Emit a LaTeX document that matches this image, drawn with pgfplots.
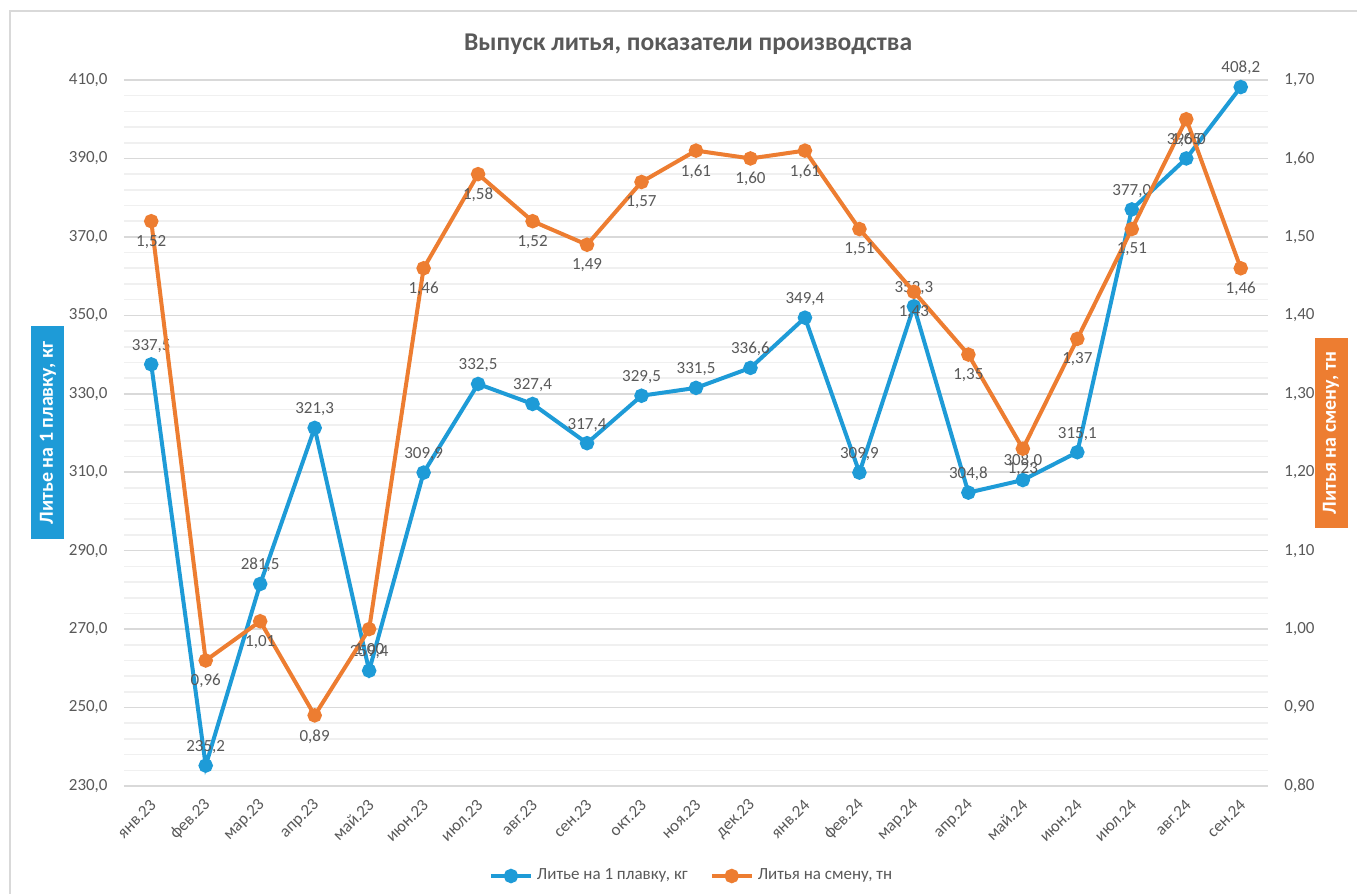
\documentclass[border=0pt]{standalone}
\usepackage{fontspec}
\setmainfont{Carlito}
\usepackage{pgfplots}
\pgfplotsset{compat=1.18}
\definecolor{cblue}{RGB}{30,155,215}
\definecolor{corange}{RGB}{237,125,49}
\definecolor{tgray}{RGB}{89,89,89}
\definecolor{gmaj}{RGB}{217,217,217}
\definecolor{gmin}{RGB}{240,240,240}
\pgfplotsset{
  common/.style={
    scale only axis, width=572pt, height=353pt,
    xmin=-0.5, xmax=20.5,
    axis line style={draw=none},
    major tick length=0pt, minor tick length=0pt,
    tick label style={font=\fontsize{8.5}{10}\selectfont, text=tgray},
    /pgf/number format/assume math mode=true,
    clip=false,
  }
}
\begin{document}
\begin{tikzpicture}
\useasboundingbox (-62pt,-54pt) rectangle (616.5pt,393pt);
\draw[gmaj, line width=0.8pt] (-57pt,387.5pt) rectangle (630pt,-60pt);

\begin{axis}[common,
  ymin=230, ymax=410, ytick={230,250,...,410}, minor y tick num=4,
  ymajorgrids, yminorgrids,
  major grid style={gmaj, line width=0.8pt},
  minor grid style={gmin, line width=0.8pt},
  yticklabel style={inner sep=0pt, /pgf/number format/.cd, use comma, fixed, fixed zerofill, precision=1},
  yticklabel shift=8pt,
  xtick={0,...,20},
  xticklabels={янв.23,фев.23,мар.23,апр.23,май.23,июн.23,июл.23,авг.23,сен.23,окт.23,ноя.23,дек.23,янв.24,фев.24,мар.24,апр.24,май.24,июн.24,июл.24,авг.24,сен.24},
  xticklabel style={rotate=45, anchor=east, inner sep=0pt, xshift=1.5pt},
  xticklabel shift=9pt,
]
\addplot[cblue, line width=2pt, mark=*, mark size=2.6pt, mark options={solid, fill=cblue},
  nodes near coords={\pgfmathprintnumber[assume math mode=true, use comma, fixed, fixed zerofill, precision=1]{\pgfplotspointmeta}},
  every node near coord/.append style={font=\fontsize{8.5}{10}\selectfont, text=tgray, anchor=south, inner sep=0pt, yshift=5pt}]
coordinates {
(0,337.5)(1,235.2)(2,281.5)(3,321.3)(4,259.4)(5,309.9)(6,332.5)(7,327.4)(8,317.4)(9,329.5)(10,331.5)
(11,336.6)(12,349.4)(13,309.9)(14,352.3)(15,304.8)(16,308.0)(17,315.1)(18,377.0)(19,390.0)(20,408.2)
};
\end{axis}

\begin{axis}[common,
  axis y line*=right, hide x axis,
  ymin=0.8, ymax=1.7, ytick={0.8,0.9,1.0,1.1,1.2,1.3,1.4,1.5,1.6,1.7},
  yticklabel style={inner sep=0pt, /pgf/number format/.cd, use comma, fixed, fixed zerofill, precision=2},
  yticklabel shift=8pt,
  legend style={at={(0.497,-0.1275)}, anchor=center, draw=none, fill=none,
    legend columns=2, font=\fontsize{8.5}{10}\selectfont, text=tgray,
    /tikz/every even column/.append style={column sep=9pt},
    inner sep=0pt},
  legend image code/.code={\draw[#1, mark repeat=2, mark phase=2] plot coordinates {(0pt,0pt)(10pt,0pt)(20pt,0pt)};},
]
\addlegendimage{cblue, line width=2pt, mark=*, mark size=2.6pt, mark options={solid, fill=cblue}}
\addlegendentry{Литье на 1 плавку, кг}
\addplot[corange, line width=2pt, mark=*, mark size=2.6pt, mark options={solid, fill=corange},
  nodes near coords={\pgfmathprintnumber[assume math mode=true, use comma, fixed, fixed zerofill, precision=2]{\pgfplotspointmeta}},
  every node near coord/.append style={font=\fontsize{8.5}{10}\selectfont, text=tgray, anchor=north, inner sep=0pt, yshift=-6pt}]
coordinates {
(0,1.52)(1,0.96)(2,1.01)(3,0.89)(4,1.00)(5,1.46)(6,1.58)(7,1.52)(8,1.49)(9,1.57)(10,1.61)
(11,1.60)(12,1.61)(13,1.51)(14,1.43)(15,1.35)(16,1.23)(17,1.37)(18,1.51)(19,1.65)(20,1.46)
};
\addlegendentry{Литья на смену, тн}
\end{axis}

\node[font=\bfseries\fontsize{12.8}{15}\selectfont, text=tgray] at (282pt,371pt) {Выпуск литья, показатели производства};
\node[fill=cblue, text=white, font=\bfseries\fontsize{10}{12}\selectfont, rotate=90,
  minimum width=106.5pt, minimum height=16.5pt, inner sep=0pt] at (-38pt,176.5pt) {Литье на 1 плавку, кг};
\node[fill=corange, text=white, font=\bfseries\fontsize{10}{12}\selectfont, rotate=90,
  minimum width=95pt, minimum height=16.5pt, inner sep=0pt] at (603.5pt,176.5pt) {Литья на смену, тн};
\end{tikzpicture}
\end{document}
